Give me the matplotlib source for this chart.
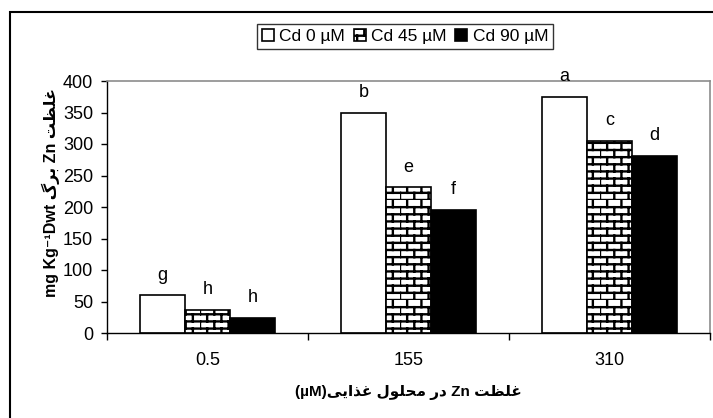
import warnings
import numpy as np
import matplotlib
matplotlib.use('Agg')
import matplotlib.pyplot as plt
from matplotlib import hatch as mhatch
from matplotlib.path import Path
from matplotlib.patches import Rectangle

warnings.filterwarnings('ignore')

# data
zn_levels = ['0.5', '155', '310']
series_names = ['Cd 0 µM', 'Cd 45 µM', 'Cd 90 µM']
cd0 = [60, 349, 375]
cd45 = [37, 231, 305]
cd90 = [24, 196, 281]
letters_cd0 = ['g', 'b', 'a']
letters_cd45 = ['h', 'e', 'c']
letters_cd90 = ['h', 'f', 'd']

# Persian text, pre-shaped (presentation forms, visual order)
w_ghelzat = '\ufe96\ufec8\ufee0\ufecf'
w_barg = '\ufb92\ufeae\ufe91'
w_dar = '\ufead\ufea9'
w_mahlul = '\ufedd\ufeee\ufee0\ufea4\ufee3'
w_ghazayi = '\ufef0\ufef3\ufe8d\ufeac\ufecf'
ylabel = 'mg Kg\u207b\u00b9Dwt ' + w_barg + ' Zn ' + w_ghelzat
xlabel = '(µM)' + w_ghazayi + ' ' + w_mahlul + ' ' + w_dar + ' Zn ' + w_ghelzat


class BrickHatch(mhatch.HatchPatternBase):
    def __init__(self, hatch, density):
        self.rows = 14 if 'B' in hatch else 0
        self.cols = 7
        self.num_vertices = 2 * self.rows + 2 * self.rows * self.cols

    def set_vertices_and_codes(self, vertices, codes):
        i = 0
        for k in range(self.rows):
            y = k / self.rows
            vertices[i] = (0, y)
            vertices[i + 1] = (1, y)
            codes[i] = Path.MOVETO
            codes[i + 1] = Path.LINETO
            i += 2
        for k in range(self.rows):
            y0 = k / self.rows
            y1 = (k + 1) / self.rows
            off = 0.5 * (k % 2)
            for j in range(self.cols):
                x = (j + off) / self.cols
                vertices[i] = (x, y0)
                vertices[i + 1] = (x, y1)
                codes[i] = Path.MOVETO
                codes[i + 1] = Path.LINETO
                i += 2


mhatch._hatch_types.append(BrickHatch)

plt.rcParams['font.family'] = ['Liberation Sans', 'DejaVu Sans']
plt.rcParams['font.size'] = 12
plt.rcParams['hatch.linewidth'] = 1.7

fig = plt.figure(figsize=(7.13, 4.18), dpi=100)
ax = fig.add_axes([107 / 713, 85 / 418, 603 / 713, 252 / 418])

x = np.arange(len(zn_levels))
w = 0.224
b1 = ax.bar(x - w, cd0, w, color='white', edgecolor='black', linewidth=1.2,
            label=series_names[0])
b2 = ax.bar(x, cd45, w, color='white', edgecolor='black', linewidth=1.2,
            hatch='B', label=series_names[1])
b3 = ax.bar(x + w, cd90, w, color='black', edgecolor='black', linewidth=1.2,
            label=series_names[2])

for bars, labs in [(b1, letters_cd0), (b2, letters_cd45), (b3, letters_cd90)]:
    for r, lab in zip(bars, labs):
        ax.annotate(lab, (r.get_x() + r.get_width() / 2, r.get_height()),
                    xytext=(0, 14.5), textcoords='offset points',
                    ha='center', va='center', fontsize=13, annotation_clip=False)

ax.set_xlim(-0.5, 2.5)
ax.set_ylim(0, 400)
ax.set_yticks(range(0, 401, 50))
ax.set_xticks(x)
ax.set_xticklabels(zn_levels)
ax.set_xticks([-0.5, 0.5, 1.5, 2.5], minor=True)
ax.tick_params(axis='x', which='major', length=0, pad=14, labelsize=13)
ax.tick_params(axis='x', which='minor', length=5, direction='out', width=1)
ax.tick_params(axis='y', length=4, direction='out', width=1, pad=6, labelsize=13)

for s in ['top', 'right']:
    ax.spines[s].set_color('#8c8c8c')
    ax.spines[s].set_linewidth(1.2)
for s in ['left', 'bottom']:
    ax.spines[s].set_color('black')
    ax.spines[s].set_linewidth(1.0)

ax.set_ylabel(ylabel, fontweight='bold', fontsize=11.5)
ax.yaxis.set_label_coords(-0.078, 0.556)
ax.set_xlabel(xlabel, fontweight='bold', fontsize=11)
ax.xaxis.set_label_coords(0.5, -0.205)

leg = fig.legend(loc='center', bbox_to_anchor=(405 / 713, 1 - 36.5 / 418), ncol=3,
                 frameon=True, fancybox=False, edgecolor='black', fontsize=12.5,
                 handlelength=0.7, handleheight=0.7, handletextpad=0.3,
                 columnspacing=0.5, borderpad=0.3, borderaxespad=0)
leg.get_frame().set_linewidth(1.0)

fig.patches.append(Rectangle((10 / 713, -0.2), 2, (1 - 12 / 418) + 0.2,
                             transform=fig.transFigure, fill=False,
                             edgecolor='black', linewidth=1.5, clip_on=False))

fig.savefig('out.png', dpi=100)
